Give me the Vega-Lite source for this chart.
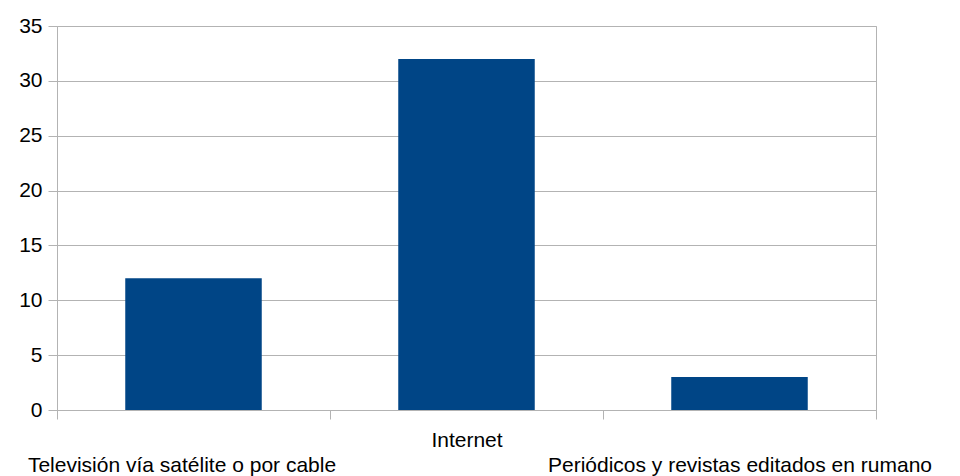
{
  "$schema": "https://vega.github.io/schema/vega-lite/v6.json",
  "width": 819,
  "height": 384,
  "autosize": {"type": "none"},
  "padding": {"left": 57, "top": 26, "right": 84, "bottom": 66},
  "background": "white",
  "config": {
    "view": {"stroke": "#b3b3b3", "strokeWidth": 1},
    "font": "Liberation Sans"
  },
  "data": {
    "values": [
      {"medio": "Televisión vía satélite o por cable", "valor": 12},
      {"medio": "Internet", "valor": 32},
      {"medio": "Periódicos y revistas editados en rumano", "valor": 3}
    ]
  },
  "mark": {"type": "bar", "color": "#004586", "width": {"band": 0.5}},
  "encoding": {
    "x": {
      "field": "medio",
      "type": "nominal",
      "sort": null,
      "scale": {"paddingInner": 0, "paddingOuter": 0},
      "axis": {
        "title": null,
        "domainColor": "#b3b3b3",
        "tickColor": "#b3b3b3",
        "tickSize": 9,
        "tickBand": "extent",
        "labelAngle": 0,
        "labelFont": "Liberation Sans",
        "labelFontSize": 21,
        "labelColor": "#000000",
        "labelExpr": "datum.label == 'Internet' ? datum.label : ['', datum.label]",
        "labelLineHeight": 25,
        "labelPadding": 10,
        "labelBaseline": "top",
        "labelOverlap": false,
        "labelBound": false,
        "labelFlush": false,
        "labelLimit": 0,
        "labelOffset": {"condition": {"test": "datum.value == 'Televisión vía satélite o por cable'", "value": -12}, "value": 0}
      }
    },
    "y": {
      "field": "valor",
      "type": "quantitative",
      "scale": {"domain": [0, 35], "nice": false},
      "axis": {
        "title": null,
        "values": [0, 5, 10, 15, 20, 25, 30, 35],
        "domain": false,
        "tickColor": "#b3b3b3",
        "tickSize": 9,
        "gridColor": "#b3b3b3",
        "gridOpacity": 1,
        "labelFont": "Liberation Sans",
        "labelFontSize": 21,
        "labelColor": "#000000",
        "labelPadding": 6
      }
    }
  }
}
